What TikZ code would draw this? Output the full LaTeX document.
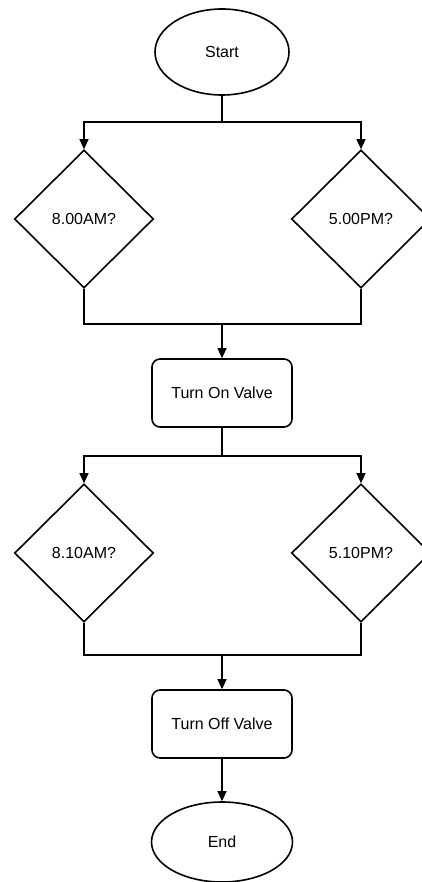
\documentclass[tikz,border=0pt]{standalone}
\usepackage{fontspec}
\setmainfont{Liberation Sans}
\usetikzlibrary{shapes.geometric,arrows.meta}
\begin{document}
\begin{tikzpicture}[x=1pt,y=-1pt,
  shapeline/.style={draw=black,line width=1.6pt},
  term/.style={shapeline,ellipse,inner sep=0pt,font=\fontsize{16}{18}\selectfont},
  decide/.style={shapeline,diamond,inner sep=0pt,minimum width=139pt,minimum height=138pt,font=\fontsize{16}{18}\selectfont},
  proc/.style={shapeline,rectangle,rounded corners=8pt,inner sep=0pt,minimum width=140pt,minimum height=68pt,font=\fontsize{16}{18}\selectfont},
  conn/.style={draw=black,line width=1.2pt},
  arr/.style={conn,-{Triangle[length=10pt,width=9pt]}}]
\useasboundingbox (0,0) rectangle (422,882);
\node[term,minimum width=134pt,minimum height=86pt] (start) at (222,52) {Start};
\node[decide] (d1) at (84,219) {8.00AM?};
\node[decide] (d2) at (361,219) {5.00PM?};
\node[proc] (on) at (222,393) {Turn On Valve};
\node[decide] (d3) at (84,553) {8.10AM?};
\node[decide] (d4) at (361,553) {5.10PM?};
\node[proc] (off) at (222,724) {Turn Off Valve};
\node[term,minimum width=141pt,minimum height=80pt] (end) at (222,842) {End};
\coordinate (s1) at (222,122);
\coordinate (j1) at (222,324);
\coordinate (s2) at (222,456);
\coordinate (j2) at (222,655);
\draw[conn] (start) -- (s1);
\draw[arr] (s1) -| (d1.north);
\draw[arr] (s1) -| (d2.north);
\draw[conn] (d1.south) |- (j1);
\draw[conn] (d2.south) |- (j1);
\draw[arr] (j1) -- (on.north);
\draw[conn] (on.south) -- (s2);
\draw[arr] (s2) -| (d3.north);
\draw[arr] (s2) -| (d4.north);
\draw[conn] (d3.south) |- (j2);
\draw[conn] (d4.south) |- (j2);
\draw[arr] (j2) -- (off.north);
\draw[arr] (off.south) -- (end.north);
\end{tikzpicture}
\end{document}
